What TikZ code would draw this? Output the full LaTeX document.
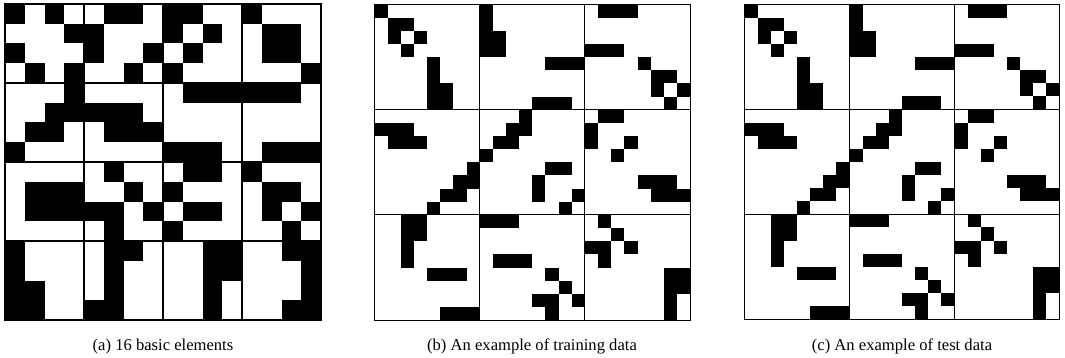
\documentclass[tikz,border=0pt]{standalone}
\usepackage{fontspec}
\setmainfont{Liberation Serif}
\begin{document}
\begin{tikzpicture}[x=0.5pt,y=-0.5pt]
\useasboundingbox (0,0) rectangle (1065,358);
\tikzset{
  frame/.style={draw=black,line width=0.55pt},
  captext/.style={font=\fontsize{8.3}{10}\selectfont,anchor=base,inner sep=0pt}
}
% ---------- panel (a): 16 basic elements, 4x4 cells each ----------
\def\adata{0/{0,2,5,6,8,9,12},1/{3,4,8,10,13,14},2/{0,4,7,9,13,14},3/{1,3,6,8,15},
4/{3,9,10,11,12,13,14},5/{2,3,4,5,6},6/{1,2,5,6,7},7/{0,8,9,10,13,14,15},
8/{5,9,10,12},9/{1,2,3,6,8,13,14},10/{1,2,3,4,5,7,9,10,13,15},11/{5,8,14},
12/{0,5,6,10,11,14,15},13/{0,5,10,11,15},14/{0,1,5,10,15},15/{0,1,4,5,10,14,15}}
\def\ax{5}\def\ay{4}\def\as{19.75}
\foreach \r/\cs in \adata {
  \foreach \c in \cs {
    \fill[black] ({\ax+\c*\as},{\ay+\r*\as}) rectangle ++(\as,\as);
  }
}
\foreach \i in {1,2,3} {
  \draw[frame] ({\ax+\i*4*\as},\ay) -- ++(0,{16*\as});
  \draw[frame] (\ax,{\ay+\i*4*\as}) -- ++({16*\as},0);
}
\draw[frame] (\ax,\ay) rectangle ++({16*\as},{16*\as});
\node[captext] (capa) at (163,350) {(a) 16 basic elements};
% ---------- panels (b) and (c): 3x3 blocks of 8x8 cells ----------
\def\bdata{0/{0,8,17,18,19},1/{1,2,8},2/{1,3,8,9},3/{2,8,9,16,17,18},
4/{4,13,14,15,20},5/{4,21,22},6/{4,5,21,23},7/{4,5,12,13,14,22},
8/{11,17,18},9/{0,1,2,10,11,16},10/{1,2,3,9,10,16,19},11/{8,18},
12/{7,13,14},13/{6,7,12,20,21,22},14/{5,6,12,15,21,22,23},15/{4,14},
16/{2,3,8,9,10,17},17/{2,3,18},18/{2,16,17,19},19/{2,9,10,11,17},
20/{4,5,6,13,22,23},21/{14,22,23},22/{12,13,15,22},23/{5,6,7,13,22}}
\newcommand\drawsample[3]{%
  \foreach \r/\cs in \bdata {
    \foreach \c in \cs {
      \fill[black] ({#1+\c*#3},{#2+\r*#3}) rectangle ++(#3,#3);
    }
  }
  \foreach \i in {1,2} {
    \draw[frame] ({#1+\i*8*#3},#2) -- ++(0,{24*#3});
    \draw[frame] (#1,{#2+\i*8*#3}) -- ++({24*#3},0);
  }
  \draw[frame] (#1,#2) rectangle ++({24*#3},{24*#3});
}
\drawsample{374.5}{4.5}{13.15}
\node[captext] (capb) at (532,350) {(b) An example of training data};
\drawsample{744.7}{4.6}{13.11}
\node[captext] (capc) at (902,350) {(c) An example of test data};
\end{tikzpicture}
\end{document}
